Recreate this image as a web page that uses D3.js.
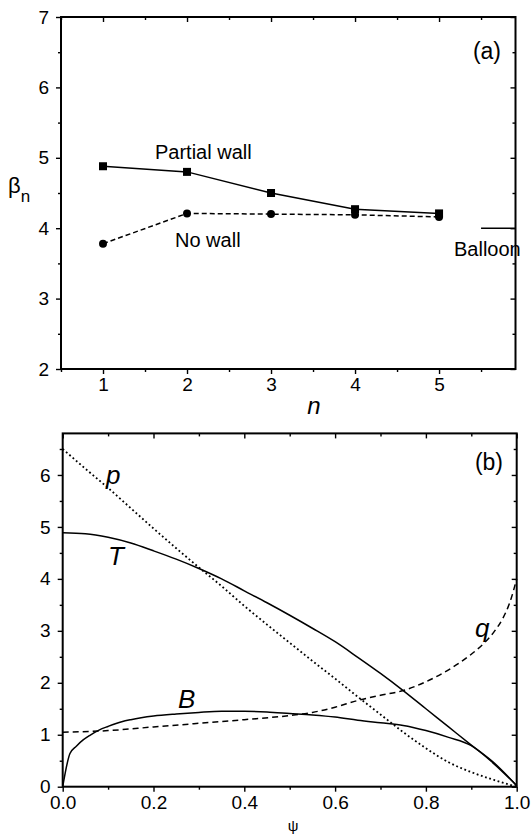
<!DOCTYPE html>
<html><head><meta charset="utf-8">
<script src="https://cdn.jsdelivr.net/npm/d3@7"></script>
<style>
html,body{margin:0;padding:0;background:#fff;}
svg{display:block;font-family:"Liberation Sans",Arial,sans-serif;}
</style></head>
<body>
<svg id="c" width="532" height="836"></svg>
<script>
// ---------- Panel (a) data ----------
const nValues = [1, 2, 3, 4, 5];
const partialWall = [4.88, 4.80, 4.50, 4.27, 4.21];
const noWall = [3.78, 4.21, 4.20, 4.19, 4.16];
const balloonValue = 4.0;
const balloonRange = [5.5, 5.91];
const aXTicks = [1, 2, 3, 4, 5];
const aXMinor = [0.5, 1.5, 2.5, 3.5, 4.5, 5.5];
const aYTicks = [2, 3, 4, 5, 6, 7];
const aYMinor = [2.5, 3.5, 4.5, 5.5, 6.5];

// ---------- Panel (b) data ----------
const psiP = [0, 0.05, 0.1, 0.15, 0.2, 0.25, 0.3, 0.35, 0.4, 0.45, 0.5, 0.55, 0.6, 0.65, 0.7, 0.75, 0.8, 0.85, 0.9, 0.95, 1.0];
const pVals = [6.5, 6.12, 5.75, 5.36, 4.97, 4.59, 4.22, 3.86, 3.48, 3.12, 2.77, 2.42, 2.08, 1.73, 1.39, 1.05, 0.74, 0.47, 0.28, 0.13, 0.0];
const psiT = [0, 0.05, 0.1, 0.15, 0.2, 0.25, 0.3, 0.35, 0.4, 0.45, 0.5, 0.55, 0.6, 0.65, 0.7, 0.75, 0.8, 0.85, 0.9, 0.95, 1.0];
const tVals = [4.89, 4.87, 4.80, 4.69, 4.54, 4.38, 4.20, 4.00, 3.77, 3.54, 3.30, 3.05, 2.79, 2.49, 2.18, 1.85, 1.50, 1.15, 0.80, 0.46, 0.02];
const psiB = [0, 0.016, 0.03, 0.045, 0.06, 0.08, 0.1, 0.13, 0.15, 0.2, 0.25, 0.3, 0.35, 0.4, 0.45, 0.5, 0.55, 0.6, 0.65, 0.7, 0.75, 0.8, 0.85, 0.9, 0.95, 1.0];
const bVals = [0.0, 0.64, 0.78, 0.90, 0.99, 1.09, 1.16, 1.25, 1.29, 1.36, 1.40, 1.43, 1.45, 1.45, 1.44, 1.41, 1.38, 1.34, 1.28, 1.23, 1.18, 1.08, 0.95, 0.79, 0.44, 0.02];
const psiQ = [0, 0.1, 0.2, 0.3, 0.4, 0.5, 0.55, 0.6, 0.65, 0.7, 0.75, 0.8, 0.85, 0.9, 0.93, 0.95, 0.97, 0.985, 1.0];
const qVals = [1.05, 1.08, 1.15, 1.22, 1.29, 1.37, 1.43, 1.53, 1.66, 1.76, 1.85, 2.02, 2.25, 2.55, 2.78, 2.98, 3.25, 3.55, 4.0];
const bXTicks = [0, 0.2, 0.4, 0.6, 0.8, 1.0];
const bXMinor = [0.1, 0.3, 0.5, 0.7, 0.9];
const bYTicks = [0, 1, 2, 3, 4, 5, 6];
const bYMinor = [0.5, 1.5, 2.5, 3.5, 4.5, 5.5, 6.5];

const svg = d3.select("#c");
const tickFont = 19;

function frameAxes(g, x, y, xt, xm, yt, ym, xfmt) {
  const [x0, x1] = x.range();
  const [y0, y1] = y.range(); // y0 bottom, y1 top
  const styleAxis = a => {
    a.select(".domain").remove();
    a.selectAll(".tick line").attr("stroke", "#000").attr("stroke-width", 1.4);
    a.selectAll(".tick text").attr("font-size", tickFont).attr("font-family", "Liberation Sans, Arial, sans-serif").attr("fill", "#000");
  };
  // bottom
  g.append("g").attr("transform", `translate(0,${y0})`)
    .call(d3.axisBottom(x).tickValues(xt).tickSize(5).tickPadding(4).tickFormat(xfmt)).call(styleAxis);
  g.append("g").attr("transform", `translate(0,${y0})`)
    .call(d3.axisBottom(x).tickValues(xm).tickSize(3).tickFormat("")).call(styleAxis);
  // top (ticks pointing down)
  g.append("g").attr("transform", `translate(0,${y1})`)
    .call(d3.axisBottom(x).tickValues(xt).tickSize(5).tickFormat("")).call(styleAxis);
  g.append("g").attr("transform", `translate(0,${y1})`)
    .call(d3.axisBottom(x).tickValues(xm).tickSize(3).tickFormat("")).call(styleAxis);
  // left
  g.append("g").attr("transform", `translate(${x0},0)`)
    .call(d3.axisLeft(y).tickValues(yt).tickSize(5).tickPadding(7).tickFormat(d3.format("d"))).call(styleAxis);
  g.append("g").attr("transform", `translate(${x0},0)`)
    .call(d3.axisLeft(y).tickValues(ym).tickSize(3).tickFormat("")).call(styleAxis);
  // right (ticks pointing left)
  g.append("g").attr("transform", `translate(${x1},0)`)
    .call(d3.axisLeft(y).tickValues(yt).tickSize(5).tickFormat("")).call(styleAxis);
  g.append("g").attr("transform", `translate(${x1},0)`)
    .call(d3.axisLeft(y).tickValues(ym).tickSize(3).tickFormat("")).call(styleAxis);
  // frame
  g.append("rect").attr("x", x0).attr("y", y1).attr("width", x1 - x0).attr("height", y0 - y1)
    .attr("fill", "none").attr("stroke", "#000").attr("stroke-width", 2);
}

// ================= Panel (a) =================
const ga = svg.append("g");
const xA = d3.scaleLinear().domain([0.5, 5.91]).range([61, 515.5]);
const yA = d3.scaleLinear().domain([2, 7]).range([369, 17]);
frameAxes(ga, xA, yA, aXTicks, aXMinor, aYTicks, aYMinor, d3.format("d"));

const lineA = d3.line().x(d => xA(d[0])).y(d => yA(d[1]));
const pwData = nValues.map((n, i) => [n, partialWall[i]]);
const nwData = nValues.map((n, i) => [n, noWall[i]]);

ga.append("path").attr("d", lineA(nwData)).attr("fill", "none").attr("stroke", "#000")
  .attr("stroke-width", 1.5).attr("stroke-dasharray", "5,3");
ga.append("path").attr("d", lineA(pwData)).attr("fill", "none").attr("stroke", "#000")
  .attr("stroke-width", 1.5);
ga.selectAll("circle.nw").data(nwData).enter().append("circle")
  .attr("cx", d => xA(d[0])).attr("cy", d => yA(d[1])).attr("r", 4).attr("fill", "#000");
ga.selectAll("rect.pw").data(pwData).enter().append("rect")
  .attr("x", d => xA(d[0]) - 4).attr("y", d => yA(d[1]) - 4).attr("width", 8).attr("height", 8).attr("fill", "#000");
// balloon limit
ga.append("line").attr("x1", xA(balloonRange[0])).attr("x2", xA(balloonRange[1]))
  .attr("y1", yA(balloonValue)).attr("y2", yA(balloonValue)).attr("stroke", "#000").attr("stroke-width", 1.5);

ga.append("text").attr("x", 155).attr("y", 158.5).attr("font-size", 20).text("Partial wall");
ga.append("text").attr("x", 175).attr("y", 246.5).attr("font-size", 20).text("No wall");
ga.append("text").attr("x", 454).attr("y", 255.5).attr("font-size", 20).text("Balloon");
ga.append("text").attr("x", 501).attr("y", 59).attr("font-size", 23).attr("text-anchor", "end").text("(a)");
const beta = ga.append("text").attr("x", 8).attr("y", 193).attr("font-size", 22);
beta.append("tspan").text("β");
beta.append("tspan").attr("font-size", 17).attr("dy", 9).text("n");
ga.append("text").attr("x", 314).attr("y", 414).attr("font-size", 24).attr("font-style", "italic")
  .attr("text-anchor", "middle").text("n");

// ================= Panel (b) =================
const gb = svg.append("g");
const xB = d3.scaleLinear().domain([0, 1]).range([62.7, 516.7]);
const yB = d3.scaleLinear().domain([0, 6.8]).range([786.7, 433.4]);
frameAxes(gb, xB, yB, bXTicks, bXMinor, bYTicks, bYMinor, d3.format(".1f"));

const lineB = d3.line().x(d => xB(d[0])).y(d => yB(d[1])).curve(d3.curveMonotoneX);
const zip = (xs, ys) => xs.map((x, i) => [x, ys[i]]);

gb.append("path").attr("d", lineB(zip(psiP, pVals))).attr("fill", "none").attr("stroke", "#000")
  .attr("stroke-width", 1.8).attr("stroke-dasharray", "1.8,2.6");
gb.append("path").attr("d", lineB(zip(psiQ, qVals))).attr("fill", "none").attr("stroke", "#000")
  .attr("stroke-width", 1.5).attr("stroke-dasharray", "6,4");
gb.append("path").attr("d", lineB(zip(psiT, tVals))).attr("fill", "none").attr("stroke", "#000")
  .attr("stroke-width", 1.5);
gb.append("path").attr("d", lineB(zip(psiB, bVals))).attr("fill", "none").attr("stroke", "#000")
  .attr("stroke-width", 1.5);

const lab = (x, y, t) => gb.append("text").attr("x", x).attr("y", y).attr("font-size", 26)
  .attr("font-style", "italic").text(t);
lab(106, 484, "p");
lab(108, 565, "T");
lab(178, 708, "B");
lab(475, 637, "q");
gb.append("text").attr("x", 503).attr("y", 470).attr("font-size", 23).attr("text-anchor", "end").text("(b)");
gb.append("text").attr("x", 293).attr("y", 831).attr("font-size", 15).attr("text-anchor", "middle").text("ψ");
</script>
</body></html>
